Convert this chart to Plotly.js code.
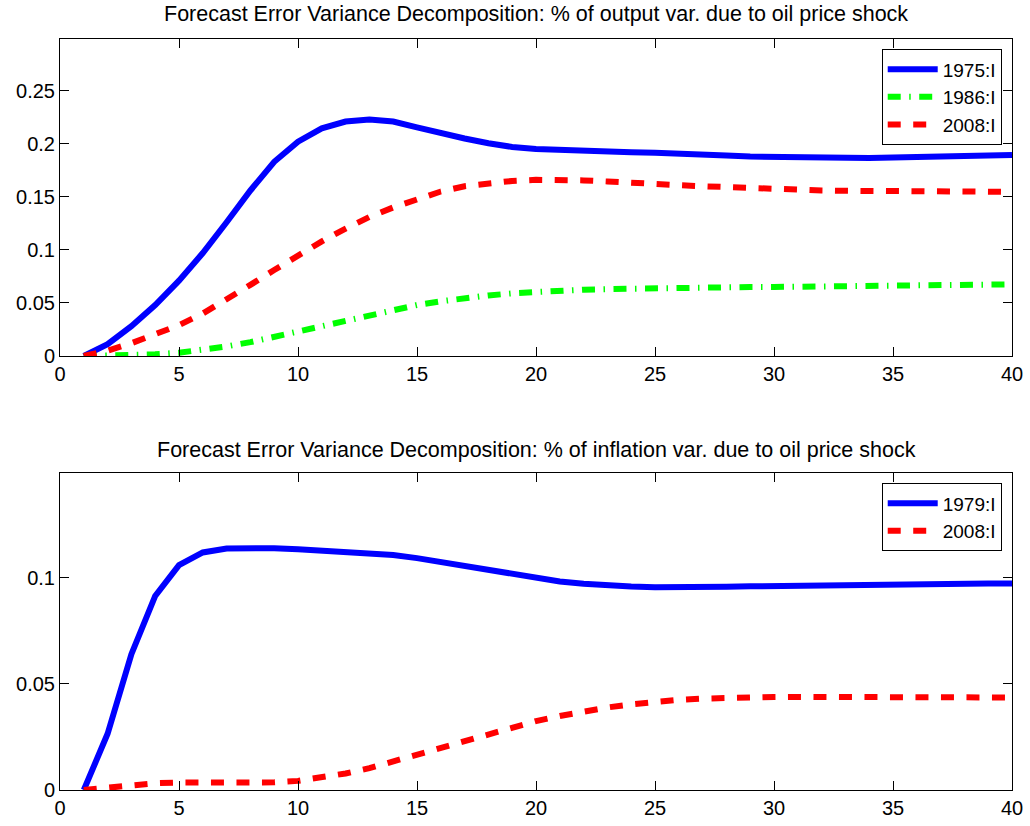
<!DOCTYPE html>
<html>
<head>
<meta charset="utf-8">
<script src="https://cdn.plot.ly/plotly-3.0.1.min.js"></script>
<style>html,body{margin:0;padding:0;background:#fff;}#chart{width:1030px;height:826px;}</style>
</head>
<body>
<div id="chart"></div>
<script>
// Horizon (quarters)
const horizon = Array.from({length: 40}, (_, i) => i + 1);

// Top panel: % of output variance due to oil price shock
const output1975 = [0, 0.011, 0.028, 0.048, 0.071, 0.097, 0.126, 0.156, 0.183, 0.202,
  0.2145, 0.221, 0.223, 0.221, 0.2155, 0.210, 0.205, 0.2005, 0.197, 0.195,
  0.194, 0.193, 0.1925, 0.192, 0.1915, 0.191, 0.190, 0.189, 0.188, 0.1875,
  0.187, 0.1865, 0.1865, 0.1865, 0.187, 0.1875, 0.188, 0.1885, 0.189, 0.1895];
const output1986 = [0, 0.0003, 0.0008, 0.0015, 0.003, 0.0055, 0.009, 0.013, 0.018, 0.0235,
  0.029, 0.034, 0.039, 0.044, 0.048, 0.0515, 0.0545, 0.057, 0.059, 0.0605,
  0.0615, 0.0625, 0.063, 0.0635, 0.064, 0.0643, 0.0645, 0.0647, 0.065, 0.065,
  0.0652, 0.0655, 0.0657, 0.066, 0.0662, 0.0665, 0.0667, 0.067, 0.0672, 0.0675];
const output2008 = [0, 0.005, 0.012, 0.020, 0.029, 0.040, 0.053, 0.067, 0.081, 0.095,
  0.108, 0.120, 0.131, 0.140, 0.148, 0.155, 0.160, 0.163, 0.165, 0.166,
  0.166, 0.1655, 0.1645, 0.163, 0.162, 0.161, 0.160, 0.159, 0.158, 0.157,
  0.1565, 0.156, 0.1557, 0.1555, 0.1553, 0.155, 0.155, 0.155, 0.1548, 0.1547];

// Bottom panel: % of inflation variance due to oil price shock
const inflation1979 = [0, 0.0265, 0.064, 0.0915, 0.106, 0.112, 0.1138, 0.1142, 0.114, 0.1135,
  0.1130, 0.1125, 0.1118, 0.1108, 0.1093, 0.1075, 0.1055, 0.1035, 0.1015, 0.0998,
  0.0983, 0.0972, 0.0964, 0.0959, 0.0956, 0.0955, 0.0956, 0.0958, 0.096, 0.0962,
  0.0964, 0.0966, 0.0968, 0.0970, 0.0971, 0.0972, 0.0973, 0.0973, 0.0974, 0.0974];
const inflation2008 = [0, 0.001, 0.0025, 0.0032, 0.0035, 0.0035, 0.0034, 0.0034, 0.0036, 0.0043,
  0.0058, 0.0078, 0.0103, 0.0135, 0.017, 0.0203, 0.0236, 0.0268, 0.0297, 0.0325,
  0.0349, 0.037, 0.0389, 0.0404, 0.0416, 0.0425, 0.0431, 0.0435, 0.0437, 0.0438,
  0.0439, 0.0439, 0.0439, 0.0438, 0.0438, 0.0437, 0.0437, 0.0436, 0.0436, 0.0436];

// Tick labels
const xTickVals = [0, 5, 10, 15, 20, 25, 30, 35, 40];
const xTickText = ['0', '5', '10', '15', '20', '25', '30', '35', '40'];
const yTopTickVals = [0, 0.05, 0.1, 0.15, 0.2, 0.25];
const yTopTickText = ['0', '0.05', '0.1', '0.15', '0.2', '0.25'];
const yBotTickVals = [0, 0.05, 0.1];
const yBotTickText = ['0', '0.05', '0.1'];

const titleTop = 'Forecast Error Variance Decomposition: % of output var. due to oil price shock';
const titleBot = 'Forecast Error Variance Decomposition: % of inflation var. due to oil price shock';

const FONT = 'Liberation Sans, Arial, Helvetica, sans-serif';
const LW = 6;

const traces = [
  {x: horizon, y: output1975, name: '1975:I', xaxis: 'x', yaxis: 'y', mode: 'lines',
   line: {color: '#0000ff', width: LW}, legend: 'legend'},
  {x: horizon, y: output1986, name: '1986:I', xaxis: 'x', yaxis: 'y', mode: 'lines',
   line: {color: '#00ff00', width: LW, dash: '13px,8.5px,1.5px,8.5px'}, legend: 'legend'},
  {x: horizon, y: output2008, name: '2008:I', xaxis: 'x', yaxis: 'y', mode: 'lines',
   line: {color: '#ff0000', width: LW, dash: '13px,12.5px'}, legend: 'legend'},
  {x: horizon, y: inflation1979, name: '1979:I', xaxis: 'x2', yaxis: 'y2', mode: 'lines',
   line: {color: '#0000ff', width: LW}, legend: 'legend2'},
  {x: horizon, y: inflation2008, name: '2008:I', xaxis: 'x2', yaxis: 'y2', mode: 'lines',
   line: {color: '#ff0000', width: LW, dash: '13px,12.5px'}, legend: 'legend2'}
];

const axisCommon = {
  showline: true, linecolor: '#000', linewidth: 1, mirror: 'ticks',
  ticks: 'inside', ticklen: 9, tickcolor: '#000', tickwidth: 1,
  showgrid: false, zeroline: false,
  tickfont: {family: FONT, size: 20, color: '#000'}
};

const legendCommon = {
  xref: 'paper', yref: 'paper', xanchor: 'right', yanchor: 'top',
  bgcolor: '#fff', bordercolor: '#000', borderwidth: 1,
  font: {family: FONT, size: 19, color: '#000'},
  itemwidth: 50, tracegroupgap: 0
};

const layout = {
  width: 1030, height: 826,
  paper_bgcolor: '#fff', plot_bgcolor: '#fff',
  margin: {l: 60, r: 18, t: 39, b: 36},
  showlegend: true,
  xaxis: Object.assign({}, axisCommon, {domain: [0, 1], range: [0, 40], anchor: 'y',
    tickvals: xTickVals, ticktext: xTickText}),
  yaxis: Object.assign({}, axisCommon, {domain: [0.578, 1], range: [0, 0.2988], anchor: 'x',
    tickvals: yTopTickVals, ticktext: yTopTickText}),
  xaxis2: Object.assign({}, axisCommon, {domain: [0, 1], range: [0, 40], anchor: 'y2',
    tickvals: xTickVals, ticktext: xTickText}),
  yaxis2: Object.assign({}, axisCommon, {domain: [0, 0.422], range: [0, 0.1494], anchor: 'x2',
    tickvals: yBotTickVals, ticktext: yBotTickText}),
  legend: Object.assign({}, legendCommon, {x: 0.9892, y: 0.9863}),
  legend2: Object.assign({}, legendCommon, {x: 0.9892, y: 0.4084}),
  annotations: [
    {text: titleTop, xref: 'paper', yref: 'paper', x: 0.5, y: 1.033, xanchor: 'center', yanchor: 'middle',
     showarrow: false, font: {family: FONT, size: 21.5, color: '#000'}},
    {text: titleBot, xref: 'paper', yref: 'paper', x: 0.5, y: 0.4527, xanchor: 'center', yanchor: 'middle',
     showarrow: false, font: {family: FONT, size: 21.5, color: '#000'}}
  ]
};

Plotly.newPlot('chart', traces, layout, {displayModeBar: false, staticPlot: true});
</script>
</body>
</html>
